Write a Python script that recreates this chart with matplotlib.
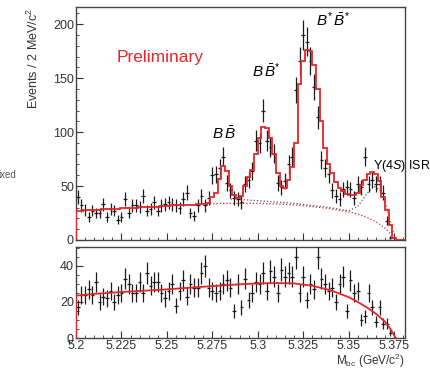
import numpy as np
import matplotlib.pyplot as plt
from matplotlib.ticker import MultipleLocator

plt.rcParams['font.family'] = ['Liberation Sans', 'DejaVu Sans']
plt.rcParams['mathtext.fontset'] = 'custom'
plt.rcParams['mathtext.rm'] = 'Liberation Sans'
plt.rcParams['mathtext.it'] = 'Liberation Sans:italic'

# 2 MeV bins from 5.200 to 5.382 GeV
edges = np.linspace(5.2, 5.382, 92)
centers = (edges[:-1] + edges[1:]) / 2

# upper panel: data and fit
top_counts = [40, 32, 28, 21, 27, 25, 25, 33, 21, 29, 27, 19, 21, 38, 25, 32, 32, 31, 41, 27,
              29, 35, 27, 32, 33, 35, 33, 32, 30, 38, 44, 25, 22, 32, 41, 32, 39, 60, 61, 67,
              77, 53, 46, 39, 38, 35, 52, 56, 64, 92, 90, 120, 92, 86, 80, 53, 49, 55, 70, 77,
              139, 166, 190, 184, 166, 142, 114, 74, 67, 61, 46, 41, 38, 47, 49, 47, 39, 52, 49, 77,
              52, 56, 52, 52, 44, 18, 2, 0, 0, 0, 0]
top_fit = [27, 27, 27.5, 27.5, 28, 28, 28, 28.5, 28.5, 29, 29, 29, 29.5, 29.5, 30, 30, 30, 30.5, 30.5, 30.5,
           31, 31, 31, 31.5, 31.5, 31.5, 32, 32, 32, 32, 32.5, 32.5, 32.5, 33, 33, 33.5, 34, 40, 44, 57,
           69, 64, 50, 42, 39, 41, 50, 58, 65, 80, 95, 105, 104, 95, 80, 62, 50, 48, 56, 68,
           90, 145, 166, 176, 175, 162, 140, 110, 85, 70, 62, 54, 48, 45, 43, 42, 42, 44, 51, 56,
           61, 63, 61, 55, 40, 28, 14, 2, 0, 0, 0]
bg_mass = [5.270, 5.28, 5.29, 5.30, 5.31, 5.32, 5.33, 5.34, 5.35, 5.355, 5.36, 5.365, 5.37, 5.373, 5.375]
bg_val = [33, 34, 34, 34, 33.5, 32.5, 31, 29, 26, 24, 21, 17, 11, 6, 0]
isr_mass = [5.285, 5.30, 5.32, 5.34, 5.35, 5.355, 5.36, 5.364, 5.368, 5.371, 5.374, 5.376]
isr_val = [38, 36.5, 34, 30, 27, 31, 43, 50, 45, 30, 10, 0]

# lower panel: data and fit
low_counts = [17, 24, 24, 27, 24, 31, 20, 23, 22, 26, 20, 24, 25, 33, 30, 25, 25, 31, 25, 36,
              29, 31, 31, 25, 22, 26, 30, 18, 26, 32, 23, 30, 28, 28, 36, 40, 28, 26, 25, 26,
              30, 32, 28, 15, 30, 17, 33, 21, 25, 31, 30, 36, 26, 37, 34, 25, 38, 34, 36, 34,
              45, 25, 34, 21, 30, 27, 45, 33, 30, 26, 28, 20, 30, 34, 15, 32, 25, 26, 10, 12,
              25, 17, 9, 17, 8, 8, 3, 0, 0, 0, 0]
low_fit_mass = [5.2, 5.2, 5.21, 5.225, 5.25, 5.275, 5.29, 5.30, 5.31, 5.32, 5.33, 5.34, 5.35,
                5.355, 5.36, 5.365, 5.37, 5.373, 5.375, 5.376]
low_fit_val = [0, 23.5, 24.5, 25.5, 27, 28.8, 29.8, 30.3, 30.5, 30.3, 29, 26.5, 22.7,
               20, 17, 13.5, 9, 5, 1.5, 0]

red = '#e3262b'
ink = '#1a1a1a'

fig = plt.figure(figsize=(4.31, 3.69), dpi=100)
ax1 = fig.add_axes([0.1763, 0.3496, 0.7633, 0.6314])
ax2 = fig.add_axes([0.1763, 0.0840, 0.7633, 0.2466])


def draw_points(ax, counts):
    c = np.array(counts, dtype=float)
    m = c > 0
    ax.errorbar(centers[m], c[m], yerr=np.sqrt(c[m]), xerr=0.001, fmt='none',
                ecolor=ink, elinewidth=0.9, capsize=0, zorder=3)


# upper panel
draw_points(ax1, top_counts)
ax1.stairs(top_fit, edges, baseline=0, color=red, lw=1.3, zorder=4)
ax1.plot(bg_mass, bg_val, ls=':', color=red, lw=0.9, zorder=2)
ax1.plot(isr_mass, isr_val, ls=':', color='#555555', lw=0.9, zorder=2)
ax1.set_xlim(5.2, 5.381)
ax1.set_ylim(0, 216)
ax1.xaxis.set_major_locator(MultipleLocator(0.025))
ax1.xaxis.set_minor_locator(MultipleLocator(0.005))
ax1.yaxis.set_major_locator(MultipleLocator(50))
ax1.yaxis.set_minor_locator(MultipleLocator(10))
ax1.set_xticklabels([])

ax1.text(5.2225, 169, 'Preliminary', color=red, fontsize=12.5, va='center')
ax1.text(5.2815, 99, r'$B\,\bar{B}$', fontsize=11, ha='center', va='center')
ax1.text(5.3045, 157, r'$B\,\bar{B}^{*}$', fontsize=11, ha='center', va='center')
ax1.text(5.3415, 204, r'$B^{*}\,\bar{B}^{*}$', fontsize=11, ha='center', va='center')
ax1.text(5.3636, 69, r'$\Upsilon(4S)$ ISR', fontsize=9, ha='left', va='center',
         clip_on=False)

# lower panel
draw_points(ax2, low_counts)
ax2.plot(low_fit_mass, low_fit_val, color=red, lw=1.3, zorder=4)
ax2.set_xlim(5.2, 5.381)
ax2.set_ylim(0, 50.5)
ax2.xaxis.set_major_locator(MultipleLocator(0.025))
ax2.xaxis.set_minor_locator(MultipleLocator(0.005))
ax2.yaxis.set_major_locator(MultipleLocator(20))
ax2.yaxis.set_minor_locator(MultipleLocator(5))
ax2.set_xticks([5.2, 5.225, 5.25, 5.275, 5.3, 5.325, 5.35, 5.375])
ax2.set_xticklabels(['5.2', '5.225', '5.25', '5.275', '5.3', '5.325', '5.35', '5.375'])

for ax in (ax1, ax2):
    ax.tick_params(which='both', direction='in', top=False, right=False,
                   labelsize=9, colors='#333333', pad=1.5)
    ax.tick_params(which='major', length=5)
    ax.tick_params(which='minor', length=2.5)
    for s in ax.spines.values():
        s.set_color('#444444')
        s.set_linewidth(1)

fig.text(33 / 431, 1 - 8 / 369, r'Events / 2 MeV/c$^2$', rotation=90,
         ha='center', va='top', fontsize=9, color='#333333')
fig.text(405 / 431, 1 - 361 / 369, r'M$_{\rm bc}$ (GeV/c$^2$)', ha='right',
         va='center', fontsize=8.5, color='#333333')
fig.text(-0.004, 1 - 175 / 369, 'ixed', fontsize=7, color='#555555', va='center')

fig.savefig('out.png', dpi=100)
